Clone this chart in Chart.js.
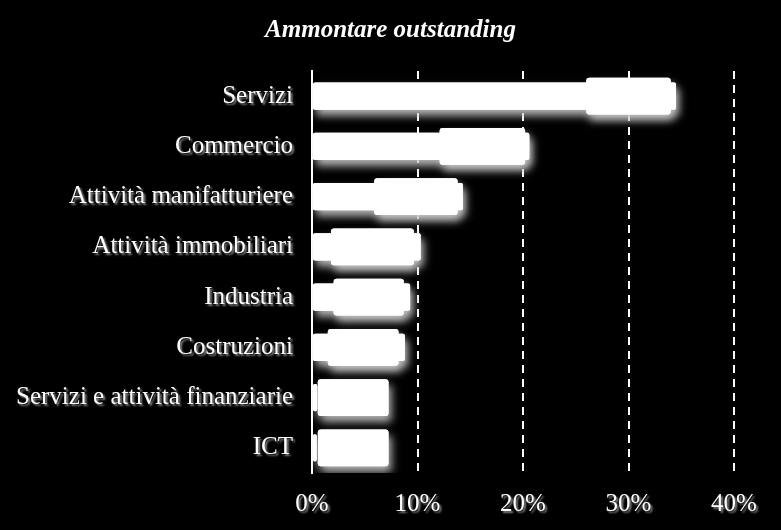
<!DOCTYPE html>
<html>
<head>
<meta charset="utf-8">
<script src="https://cdn.jsdelivr.net/npm/chart.js@4.4.0/dist/chart.umd.min.js"></script>
<style>
  html, body { margin: 0; padding: 0; background: #000; }
  #wrap { width: 781px; height: 530px; background: #000; }
  canvas { display: block; background: #000; }
</style>
</head>
<body>
<div id="wrap"><canvas id="c" width="781" height="530"></canvas></div>
<script>
const categories = [
  "Servizi",
  "Commercio",
  "Attività manifatturiere",
  "Attività immobiliari",
  "Industria",
  "Costruzioni",
  "Servizi e attività finanziarie",
  "ICT"
];
// thin bar: from 0 to value (%)
const thinEnd = [34.5, 20.6, 14.3, 10.3, 9.3, 8.8, 0.5, 0.45];
// wide box: from start to end (%)
const boxStart = [26.0, 12.1, 5.9, 1.8, 2.05, 1.5, 0.55, 0.55];
const boxEnd   = [34.0, 20.2, 13.8, 9.65, 8.7, 8.2, 7.25, 7.25];
const xTicks = [0, 10, 20, 30, 40];
const titleText = "Ammontare outstanding";

const thinData = thinEnd.map(v => [0, v]);
const boxData = boxStart.map((s, i) => [s, boxEnd[i]]);

const serif = "'Liberation Serif', 'Times New Roman', serif";

const shadowPlugin = {
  id: 'shadows',
  beforeDatasetsDraw(chart) {
    const ctx = chart.ctx;
    ctx.save();
    ctx.shadowColor = 'rgba(200,200,200,0.9)';
    ctx.shadowBlur = 9;
    ctx.shadowOffsetX = 3;
    ctx.shadowOffsetY = 6;
  },
  afterDatasetsDraw(chart) {
    const ctx = chart.ctx;
    ctx.restore();
    // redraw bars without shadow so shadows never tint white bars
    ctx.save();
    const metas = chart.getSortedVisibleDatasetMetas();
    for (let i = metas.length - 1; i >= 0; --i) {
      metas[i].data.forEach(el => el.draw(ctx));
    }
    ctx.restore();
    ctx.save();
    ctx.shadowColor = 'rgba(150,150,150,0.9)';
    ctx.shadowBlur = 2;
    ctx.shadowOffsetX = 2;
    ctx.shadowOffsetY = 2;
  },
  afterDraw(chart) {
    chart.ctx.restore();
  }
};

new Chart(document.getElementById('c'), {
  type: 'bar',
  data: {
    labels: categories,
    datasets: [
      {
        label: 'box',
        data: boxData,
        backgroundColor: '#ffffff',
        borderWidth: 0,
        borderRadius: 3,
        borderSkipped: false,
        categoryPercentage: 1,
        barPercentage: 0.73,
        grouped: false,
        order: 0
      },
      {
        label: 'thin',
        data: thinData,
        backgroundColor: '#ffffff',
        borderWidth: 0,
        borderRadius: 2,
        borderSkipped: false,
        categoryPercentage: 1,
        barPercentage: 0.54,
        grouped: false,
        order: 1
      }
    ]
  },
  options: {
    responsive: false,
    animation: false,
    indexAxis: 'y',
    layout: { padding: 0 },
    plugins: {
      legend: { display: false },
      tooltip: { enabled: false },
      title: {
        display: true,
        text: titleText,
        color: '#ffffff',
        font: { family: serif, size: 25, style: 'italic', weight: 'bold' },
        padding: { top: 16, bottom: 25 }
      }
    },
    scales: {
      x: {
        min: 0,
        max: 40,
        afterBuildTicks(scale) { scale.ticks = xTicks.map(v => ({ value: v })); },
        afterFit(scale) { scale.height = 57; },
        grid: {
          display: true,
          drawTicks: false,
          color: ctx => (ctx.tick && ctx.tick.value === 0) ? 'rgba(0,0,0,0)' : '#ffffff',
          lineWidth: 2
        },
        border: { display: false, dash: [8, 6] },
        ticks: {
          z: 1,
          color: '#ffffff',
          padding: 16,
          maxRotation: 0,
          font: { family: serif, size: 25 },
          callback: v => v + '%'
        }
      },
      y: {
        afterFit(scale) { scale.width = 312; },
        grid: { display: false, drawTicks: false },
        border: { display: true, color: '#ffffff', width: 2 },
        ticks: {
          z: 1,
          color: '#ffffff',
          padding: 19,
          font: { family: serif, size: 25 }
        }
      },
      yR: {
        type: 'category',
        position: 'right',
        afterFit(scale) { scale.width = 47; },
        grid: { display: false, drawTicks: false },
        border: { display: false },
        ticks: { display: false }
      }
    }
  },
  plugins: [shadowPlugin]
});
</script>
</body>
</html>
